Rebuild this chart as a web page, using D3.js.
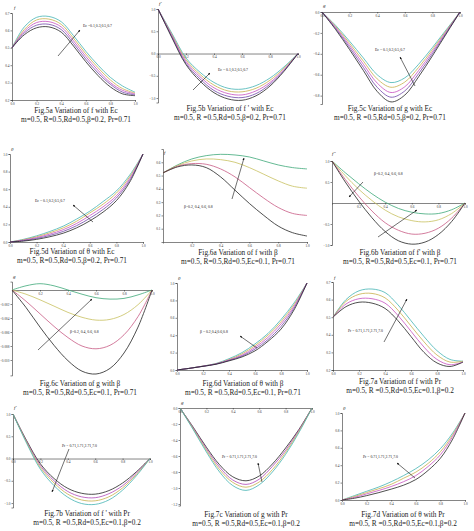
<!DOCTYPE html>
<head>
<meta charset="utf-8">
<title>Variation of f, f', g and theta with Ec, beta and Pr</title>
<style>
body { margin:0; background:#fff; }
.cap { font: 7.3px "Liberation Serif", serif; fill:#222; text-anchor:middle; }
.axis .tick text { font: 3.4px "Liberation Serif", serif; fill:#333; }
.axis path, .axis line { stroke:#333; stroke-width:0.6; }
.curve { fill:none; stroke-width:0.8; }
.lab { font: 3.8px "Liberation Serif", serif; fill:#222; }
.var { font: italic 5px "Liberation Serif", serif; fill:#222; }
</style>
</head>
<body>
<script src="https://d3js.org/d3.v7.min.js"></script>
<script>

var xi = [0, 0.1, 0.2, 0.3, 0.4, 0.5, 0.6, 0.7, 0.8, 0.9, 1.0];

// Ec : 5 curves, cyan -> black
var f5a = [
	[0.50, 0.62, 0.675, 0.68, 0.65, 0.57, 0.48, 0.40, 0.33, 0.28, 0.245],
	[0.50, 0.605, 0.66, 0.665, 0.635, 0.555, 0.465, 0.385, 0.315, 0.265, 0.24],
	[0.50, 0.595, 0.645, 0.65, 0.62, 0.54, 0.45, 0.37, 0.30, 0.255, 0.235],
	[0.50, 0.585, 0.63, 0.635, 0.605, 0.525, 0.435, 0.355, 0.29, 0.245, 0.23],
	[0.50, 0.575, 0.615, 0.62, 0.59, 0.51, 0.42, 0.34, 0.275, 0.235, 0.225]
];
var fp5b = [
	[1.0, 0.45, -0.10, -0.42, -0.65, -0.78, -0.80, -0.72, -0.55, -0.30, 0],
	[1.0, 0.42, -0.14, -0.47, -0.71, -0.84, -0.86, -0.78, -0.60, -0.33, 0],
	[1.0, 0.40, -0.18, -0.52, -0.77, -0.90, -0.93, -0.84, -0.65, -0.36, 0],
	[1.0, 0.37, -0.22, -0.57, -0.83, -0.96, -0.99, -0.90, -0.69, -0.38, 0],
	[1.0, 0.35, -0.25, -0.62, -0.88, -1.02, -1.05, -0.95, -0.73, -0.40, 0]
];
var g5c = [
	[0, -0.13, -0.28, -0.44, -0.60, -0.675, -0.63, -0.50, -0.34, -0.17, 0],
	[0, -0.14, -0.30, -0.47, -0.64, -0.72, -0.67, -0.53, -0.36, -0.18, 0],
	[0, -0.15, -0.32, -0.50, -0.68, -0.77, -0.715, -0.56, -0.38, -0.19, 0],
	[0, -0.16, -0.34, -0.53, -0.72, -0.815, -0.755, -0.59, -0.40, -0.20, 0],
	[0, -0.17, -0.36, -0.56, -0.76, -0.86, -0.795, -0.62, -0.42, -0.21, 0]
];
var t5d = [
	[0, 0.03, 0.07, 0.12, 0.18, 0.26, 0.35, 0.46, 0.58, 0.76, 1.0],
	[0, 0.025, 0.06, 0.105, 0.16, 0.235, 0.33, 0.43, 0.555, 0.74, 1.0],
	[0, 0.02, 0.05, 0.09, 0.14, 0.21, 0.30, 0.40, 0.525, 0.72, 1.0],
	[0, 0.015, 0.04, 0.075, 0.12, 0.185, 0.27, 0.37, 0.50, 0.70, 1.0],
	[0, 0.01, 0.03, 0.06, 0.10, 0.16, 0.24, 0.34, 0.47, 0.68, 1.0]
];

// beta : 4 curves green, yellow, pink, black (6d has 5)
var f6a = [
	[0.52, 0.58, 0.625, 0.65, 0.66, 0.655, 0.64, 0.61, 0.58, 0.56, 0.55],
	[0.52, 0.575, 0.61, 0.625, 0.62, 0.60, 0.56, 0.51, 0.46, 0.42, 0.405],
	[0.52, 0.57, 0.59, 0.585, 0.55, 0.49, 0.41, 0.33, 0.26, 0.215, 0.20],
	[0.52, 0.565, 0.58, 0.56, 0.49, 0.39, 0.29, 0.20, 0.12, 0.07, 0.045]
];
var fp6b = [
	[1.0, 0.72, 0.46, 0.22, 0.02, -0.13, -0.22, -0.26, -0.25, -0.16, 0],
	[1.0, 0.65, 0.33, 0.06, -0.17, -0.33, -0.42, -0.45, -0.40, -0.25, 0],
	[1.0, 0.56, 0.16, -0.19, -0.47, -0.65, -0.74, -0.72, -0.60, -0.36, 0],
	[1.0, 0.50, 0.05, -0.35, -0.68, -0.90, -0.98, -0.93, -0.75, -0.44, 0]
];
var g6c = [
	[0, 0.0006, 0.0009, 0.0006, 0.0000, -0.0006, -0.0011, -0.0013, -0.0012, -0.0007, 0],
	[0, -0.0006, -0.0014, -0.0023, -0.0032, -0.0039, -0.0043, -0.0042, -0.0035, -0.0021, 0],
	[0, -0.0016, -0.0034, -0.0052, -0.0068, -0.0080, -0.0084, -0.0079, -0.0064, -0.0038, 0],
	[0, -0.0025, -0.0053, -0.0079, -0.0101, -0.0116, -0.0120, -0.0112, -0.0090, -0.0053, 0]
];
var t6d = [
	[0, 0.02, 0.045, 0.075, 0.13, 0.20, 0.30, 0.42, 0.58, 0.77, 1.0],
	[0, 0.02, 0.045, 0.072, 0.12, 0.185, 0.28, 0.40, 0.555, 0.75, 1.0],
	[0, 0.02, 0.044, 0.07, 0.115, 0.17, 0.26, 0.375, 0.53, 0.73, 1.0],
	[0, 0.02, 0.043, 0.068, 0.11, 0.16, 0.24, 0.35, 0.50, 0.71, 1.0],
	[0, 0.02, 0.042, 0.066, 0.105, 0.15, 0.22, 0.33, 0.47, 0.69, 1.0]
];

// Pr : 4 curves
var f7a = [
	[0.50, 0.60, 0.65, 0.66, 0.64, 0.57, 0.48, 0.39, 0.31, 0.26, 0.25],
	[0.50, 0.59, 0.63, 0.635, 0.61, 0.54, 0.45, 0.36, 0.285, 0.245, 0.25],
	[0.50, 0.575, 0.605, 0.605, 0.58, 0.51, 0.42, 0.33, 0.26, 0.23, 0.245],
	[0.50, 0.56, 0.585, 0.58, 0.55, 0.48, 0.39, 0.30, 0.24, 0.22, 0.245]
];
var fp7b = [
	[1.0, 0.40, -0.12, -0.45, -0.67, -0.78, -0.80, -0.72, -0.55, -0.30, 0],
	[1.0, 0.38, -0.16, -0.50, -0.74, -0.86, -0.88, -0.79, -0.61, -0.33, 0],
	[1.0, 0.36, -0.20, -0.55, -0.80, -0.93, -0.95, -0.86, -0.66, -0.36, 0],
	[1.0, 0.34, -0.24, -0.61, -0.87, -1.01, -1.03, -0.93, -0.71, -0.39, 0]
];
var g7c = [
	[0, -0.24, -0.49, -0.71, -0.86, -0.91, -0.85, -0.70, -0.50, -0.27, 0],
	[0, -0.25, -0.51, -0.74, -0.90, -0.955, -0.89, -0.73, -0.53, -0.28, 0],
	[0, -0.26, -0.53, -0.77, -0.93, -0.99, -0.925, -0.77, -0.555, -0.295, 0],
	[0, -0.27, -0.55, -0.80, -0.97, -1.03, -0.96, -0.80, -0.58, -0.31, 0]
];
var t7d = [
	[0, 0.05, 0.10, 0.15, 0.21, 0.28, 0.36, 0.46, 0.59, 0.77, 1.0],
	[0, 0.04, 0.085, 0.13, 0.18, 0.25, 0.32, 0.42, 0.555, 0.75, 1.0],
	[0, 0.03, 0.07, 0.11, 0.155, 0.21, 0.28, 0.385, 0.52, 0.73, 1.0],
	[0, 0.02, 0.05, 0.085, 0.125, 0.17, 0.235, 0.34, 0.48, 0.70, 1.0]
];

var c5 = ["#44b4b4", "#c8b04c", "#c650c0", "#7048a8", "#222222"];
var c6 = ["#3ea878", "#c8c060", "#c85a84", "#222222"];
var c7a = ["#44b4b4", "#c8b04c", "#c650c0", "#222222"];
var c7b = ["#222222", "#b048b8", "#c8b04c", "#44b4b4"];

var xTicks = [0, 0.2, 0.4, 0.6, 0.8, 1.0];
var xTicksNoZero = [0.2, 0.4, 0.6, 0.8, 1.0];

var panels = [
 {d:f5a, c:c5, bx:[12,135], by:[100,13], dom:[0.2,0.7], yt:[0.2,0.3,0.4,0.5,0.6,0.7], fmt:".1f", xat:"bottom", xt:xTicks,
  v:"f", vp:[14,9], lab:"Ec =0.1,0.3,0.5,0.7", lp:[83,27], ar:[[58,56,80,30]],
  cap:["Fig.5a Variation of f with Ec","m=0.5, R=0.5,Rd=0.5,β=0.2, Pr=0.71"], cp:[76,113]},
 {d:fp5b, c:c5, bx:[158,298], by:[102.5,9], dom:[-1.1,1.0], yt:[-1,-0.5,0,0.5,1], fmt:".1f", xat:"zero", xt:xTicks,
  v:"f'", vp:[159,5], lab:"Ec = 0.1,0.3,0.5,0.7", lp:[218,71], ar:[[193,90,210,73]],
  cap:["Fig.5b Variation of f ' with Ec","m=0.5, R =0.5,Rd=0.5,β=0.2, Pr=0.71"], cp:[230,111]},
 {d:g5c, c:c5, bx:[322,460], by:[104,12], dom:[-0.88,0], yt:[-0.8,-0.6,-0.4,-0.2,0], fmt:".1f", xat:"zero", xt:xTicks,
  v:"g", vp:[323,7], lab:"Ec = 0.1,0.3,0.5,0.7", lp:[375,51], ar:[[415,86,400,57]],
  cap:["Fig.5c Variation of g with Ec","m=0.5, R =0.5,Rd=0.5,β=0.2, Pr=0.71"], cp:[390,111]},
 {d:t5d, c:c5, bx:[10,143], by:[242,154], dom:[0,1], yt:[0,0.2,0.4,0.6,0.8,1], fmt:".1f", xat:"bottom", xt:xTicks,
  v:"θ", vp:[11,151], lab:"Ec = 0.1,0.3,0.5,0.7", lp:[35,202], ar:[[93,222,73,205]],
  cap:["Fig.5d Variation of θ with Ec","m=0.5, R=0.5,Rd=0.5,β=0.2, Pr=0.71"], cp:[72,254]},
 {d:f6a, c:c6, bx:[163,307], by:[242,149], dom:[0,0.7], yt:[0.1,0.2,0.3,0.4,0.5,0.6], fmt:".1f", xat:"bottom", xt:xTicksNoZero,
  v:"f", vp:[164,154], lab:"β=0.2, 0.4, 0.6, 0.8", lp:[184,208], ar:[[232,199,244,158]],
  cap:["Fig.6a Variation of f with β","m=0.5, R=0.5,Rd=0.5,Ec=0.1, Pr=0.71"], cp:[238,255]},
 {d:fp6b, c:c6, bx:[332,465], by:[245,161], dom:[-1,1], yt:[-1,-0.5,0.5,1], fmt:".1f", xat:"zero", xt:xTicksNoZero,
  v:"f''", vp:[332,155], lab:"β=0.2, 0.4, 0.6, 0.8", lp:[374,175], ar:[[363,182,349,197],[378,237,417,210]],
  cap:["Fig.6b Variation of f' with β","m=0.5, R=0.5,Rd=0.5,Ec=0.1, Pr=0.71"], cp:[400,255]},
 {d:g6c, c:c6, bx:[12,152], by:[375.4,281.6], dom:[-0.0122,0.0012], yt:[-0.01,-0.008,-0.006,-0.004,-0.002], fmt:".3f", xat:"zero", xt:xTicksNoZero,
  v:"g", vp:[13,278], lab:"β=0.2, 0.4, 0.6, 0.8", lp:[70,333], ar:[[38,350,92,299]],
  cap:["Fig.6c Variation of g with β","m=0.5, R=0.5,Rd=0.5,Ec=0.1, Pr=0.71"], cp:[80,386]},
 {d:t6d, c:c5, bx:[177,307], by:[370,283], dom:[0,1], yt:[0,0.2,0.4,0.6,0.8,1], fmt:".1f", xat:"bottom", xt:xTicks,
  v:"θ", vp:[178,280], lab:"β = 0.2,0.4,0.6,0.8", lp:[200,333], ar:[[257,348,240,336]],
  cap:["Fig.6d Variation of θ with β","m=0.5, R =0.5,Rd=0.5,Ec=0.1, Pr=0.71"], cp:[243,386]},
 {d:f7a, c:c7a, bx:[333,463], by:[370,282], dom:[0.2,0.7], yt:[0.2,0.3,0.4,0.5,0.6,0.7], fmt:".1f", xat:"bottom", xt:xTicks,
  v:"f", vp:[334,279], lab:"Pr = 0.71,1.71,2.71,7.0", lp:[348,332], ar:[[384,342,407,299]],
  cap:["Fig.7a Variation of f with Pr","m=0.5, R =0.5,Rd=0.5,Ec=0.1,β=0.2"], cp:[400,384]},
 {d:fp7b, c:c7b, bx:[13,150], by:[507.5,414], dom:[-1.1,1.0], yt:[-1,-0.5,0,0.5,1], fmt:".1f", xat:"zero", xt:xTicks,
  v:"f'", vp:[14,409], lab:"Pr = 0.71,1.71,2.71,7.0", lp:[62,447], ar:[[69,449,52,492]],
  cap:["Fig.7b Variation of f ' with Pr","m=0.5, R =0.5,Rd=0.5,Ec=0.1,β=0.2"], cp:[87,516]},
 {d:g7c, c:c7b, bx:[180,312], by:[505.6,408], dom:[-1.22,0], yt:[-1.2,-1,-0.8,-0.6,-0.4,-0.2,0], fmt:".1f", xat:"zero", xt:xTicks,
  v:"g", vp:[181,404], lab:"Pr = 0.71,1.71,2.71,7.0", lp:[222,458], ar:[[262,482,258,463]],
  cap:["Fig.7c Variation of g with Pr","m=0.5, R =0.5,Rd=0.5,Ec=0.1,β=0.2"], cp:[246,517]},
 {d:t7d, c:c7a, bx:[342,465], by:[500,413], dom:[0,1], yt:[0,0.2,0.4,0.6,0.8,1], fmt:".1f", xat:"bottom", xt:xTicks,
  v:"θ", vp:[343,410], lab:"Pr = 0.71,1.71,2.71,7.0", lp:[363,458], ar:[[415,478,397,463]],
  cap:["Fig.7d Variation of θ with Pr","m=0.5, R =0.5,Rd=0.5,Ec=0.1,β=0.2"], cp:[403,517]}
];

var svg = d3.select("body").append("svg")
	.attr("width", 474)
	.attr("height", 531)
	.style("display", "block");

svg.append("defs").append("marker")
	.attr("id", "head")
	.attr("viewBox", "0 0 10 10")
	.attr("refX", 9).attr("refY", 5)
	.attr("markerWidth", 4).attr("markerHeight", 4)
	.attr("orient", "auto")
	.append("path")
	.attr("d", "M0,1L10,5L0,9Z")
	.attr("fill", "#111");

panels.forEach(function(p) {
	var x = d3.scaleLinear().domain([0, 1]).range(p.bx);
	var y = d3.scaleLinear().domain(p.dom).range(p.by);
	var g = svg.append("g");

	var xAxisY = p.xat == "zero" ? y(0) : p.by[0];
	g.append("g").attr("class", "axis")
		.attr("transform", "translate(0," + xAxisY + ")")
		.call(d3.axisBottom(x).tickValues(p.xt).tickSize(1.5).tickPadding(1).tickFormat(d3.format(".1f")));
	g.append("g").attr("class", "axis")
		.attr("transform", "translate(" + p.bx[0] + ",0)")
		.call(d3.axisLeft(y).tickValues(p.yt).tickSize(1.5).tickPadding(1).tickFormat(d3.format(p.fmt)));
	g.selectAll(".axis path").attr("stroke-width", 0.6);

	var line = d3.line()
		.x(function(d, i) { return x(xi[i]); })
		.y(function(d) { return y(d); })
		.curve(d3.curveCatmullRom.alpha(0.5));

	g.selectAll(".curve").data(p.d).enter().append("path")
		.attr("class", "curve")
		.attr("stroke", function(d, i) { return p.c[i]; })
		.attr("d", line);

	g.append("text").attr("class", "var").attr("x", p.vp[0]).attr("y", p.vp[1]).text(p.v);
	g.append("text").attr("class", "lab").attr("x", p.lp[0]).attr("y", p.lp[1]).text(p.lab);

	p.ar.forEach(function(a) {
		g.append("line")
			.attr("x1", a[0]).attr("y1", a[1]).attr("x2", a[2]).attr("y2", a[3])
			.attr("stroke", "#111").attr("stroke-width", 0.6)
			.attr("marker-end", "url(#head)");
	});

	g.append("text").attr("class", "cap").attr("x", p.cp[0]).attr("y", p.cp[1]).text(p.cap[0]);
	g.append("text").attr("class", "cap").attr("x", p.cp[0]).attr("y", p.cp[1] + 9).text(p.cap[1]);
});

</script>
</body>
